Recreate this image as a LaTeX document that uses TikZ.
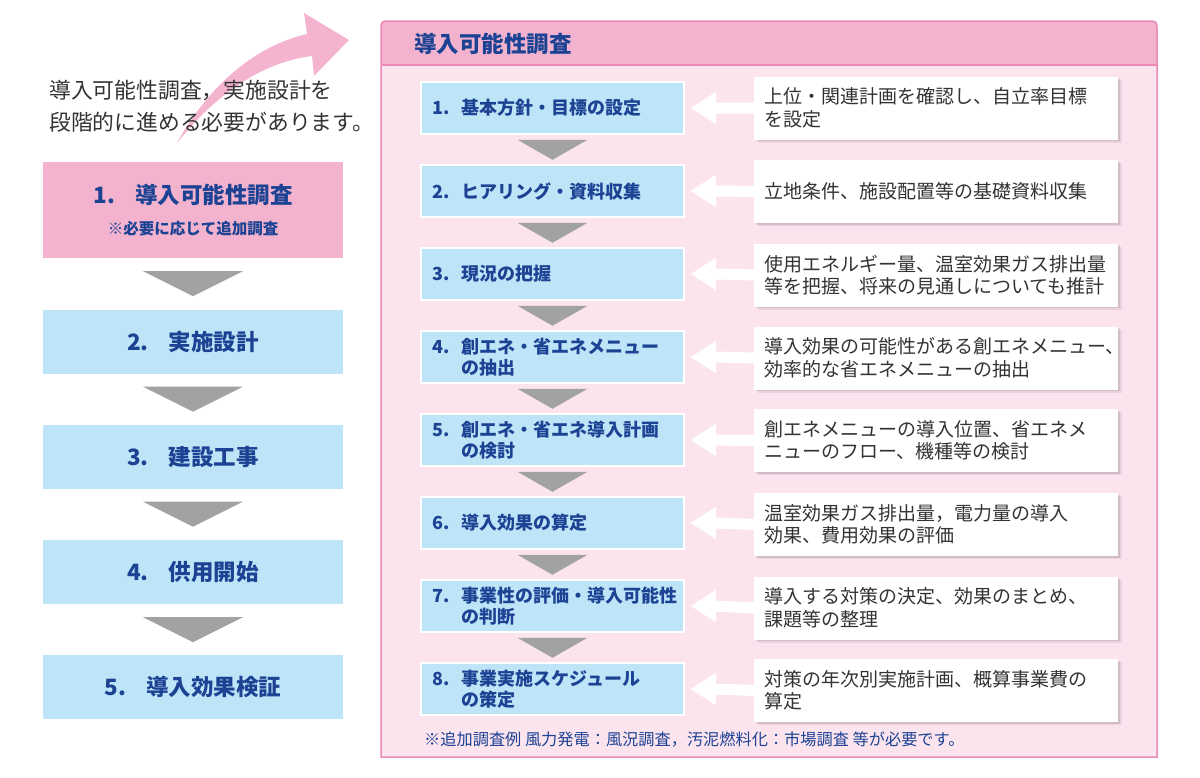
\documentclass[tikz,border=0pt]{standalone}
\usepackage{fontspec}
\setmainfont{Noto Sans CJK JP}
\usetikzlibrary{calc}
\definecolor{pinkhead}{HTML}{F3B3CF}
\definecolor{pinkbg}{HTML}{FCE4EF}
\definecolor{pinkline}{HTML}{EE88B6}
\definecolor{pinkarrow}{HTML}{F4B4CF}
\definecolor{lblue}{HTML}{BEE4F8}
\definecolor{dblue}{HTML}{1B4293}
\definecolor{tgray}{HTML}{A2A2A2}
\definecolor{txt}{HTML}{333333}
\begin{document}
\begin{tikzpicture}[x=1pt,y=-1pt,
  leftbox/.style={rectangle, fill=lblue, minimum width=300pt, minimum height=64pt, inner sep=0pt,
    text=dblue, font=\fontsize{22.5}{26}\selectfont\bfseries, align=center},
  stepbox/.style={rectangle, fill=lblue, draw=white, line width=1.5pt, text width=240pt,
    inner xsep=11.5pt, inner ysep=0pt, minimum height=52pt, align=left, text=dblue,
    font=\fontsize{18}{21.5}\selectfont\bfseries},
  descbox/.style={rectangle, fill=white, text width=344pt, inner xsep=10pt, inner ysep=0pt,
    minimum height=63pt, align=left, text=txt, font=\fontsize{19}{22.5}\selectfont,
    preaction={fill=black, opacity=0.07, transform canvas={shift={(3.5pt,-3pt)}}},
    preaction={fill=black, opacity=0.10, transform canvas={shift={(1.8pt,-1.5pt)}}}},
  tri/.style={fill=tgray},
  blockarrow/.style={fill=white}
]
\useasboundingbox (0,0) rectangle (1200,777);

% ---------- pink curved arrow ----------
\fill[pinkarrow] (177,143) .. controls (205,92) and (250,47) .. (307,34)
  -- (304,13) -- (349,40) -- (314,76) -- (312,56)
  .. controls (262,62) and (215,95) .. (177,143) -- cycle;

% ---------- intro text ----------
\node[anchor=west, align=left, text=txt, font=\fontsize{21.8}{32}\selectfont, inner sep=0pt] (intro) at (49,106)
  {導入可能性調査，実施設計を\\段階的に進める必要があります。};

% ---------- left column ----------
\node[leftbox, fill=pinkhead, minimum height=96pt] (l1) at (193,210)
  {1.\hspace{0.9em}導入可能性調査\\[5pt]{\fontsize{15.5}{18}\selectfont ※必要に応じて追加調査}};
\node[leftbox] (l2) at (193,341.5) {2.\hspace{0.9em}実施設計};
\node[leftbox] (l3) at (193,456.5) {3.\hspace{0.9em}建設工事};
\node[leftbox] (l4) at (193,572) {4.\hspace{0.9em}供用開始};
\node[leftbox] (l5) at (193,687) {5.\hspace{0.9em}導入効果検証};
\foreach \i in {1,...,4}{
  \fill[tri] ($(l\i.south)+(-50,13)$) -- ($(l\i.south)+(50,13)$) -- ($(l\i.south)+(0,38)$) -- cycle;
}

% ---------- right panel ----------
\fill[pinkbg] (381,757) -- (381,31) .. controls (381,21) .. (391,21) -- (1147,21)
  .. controls (1157,21) .. (1157,31) -- (1157,757) -- cycle;
\fill[pinkhead] (381,65) -- (381,31) .. controls (381,21) .. (391,21) -- (1147,21)
  .. controls (1157,21) .. (1157,31) -- (1157,65) -- cycle;
\draw[pinkline, line width=1.2pt] (381,65) -- (1157,65);
\draw[pinkline, line width=1.5pt] (381,757) -- (381,31) .. controls (381,21) .. (391,21) -- (1147,21)
  .. controls (1157,21) .. (1157,31) -- (1157,757) -- cycle;
\node[anchor=west, text=dblue, font=\fontsize{22.5}{26}\selectfont\bfseries, inner sep=0pt] (title) at (414,44)
  {導入可能性調査};

% ---------- steps ----------
\newcommand{\num}[1]{\makebox[29pt][l]{#1}}
\node[stepbox] (s1) at (552.5,108) {\num{1.}基本方針・目標の設定};
\node[stepbox] (s2) at (552.5,191) {\num{2.}ヒアリング・資料収集};
\node[stepbox] (s3) at (552.5,274) {\num{3.}現況の把握};
\node[stepbox] (s4) at (552.5,357) {\num{4.}創エネ・省エネメニュー\\\hspace*{29pt}の抽出};
\node[stepbox] (s5) at (552.5,440) {\num{5.}創エネ・省エネ導入計画\\\hspace*{29pt}の検討};
\node[stepbox] (s6) at (552.5,523) {\num{6.}導入効果の算定};
\node[stepbox] (s7) at (552.5,606) {\num{7.}事業性の評価・導入可能性\\\hspace*{29pt}の判断};
\node[stepbox] (s8) at (552.5,689) {\num{8.}事業実施スケジュール\\\hspace*{29pt}の策定};
\foreach \i in {1,...,7}{
  \fill[tri] ($(s\i.south)+(-35,5)$) -- ($(s\i.south)+(35,5)$) -- ($(s\i.south)+(0,25)$) -- cycle;
}

% ---------- descriptions ----------
\node[descbox] (d1) at (936,108) {上位・関連計画を確認し、自立率目標\\を設定};
\node[descbox] (d2) at (936,191.5) {立地条件、施設配置等の基礎資料収集};
\node[descbox] (d3) at (936,275) {使用エネルギー量、温室効果ガス排出量\\等を把握、将来の見通しについても推計};
\node[descbox] (d4) at (936,358) {導入効果の可能性がある創エネメニュー、\\効率的な省エネメニューの抽出};
\node[descbox] (d5) at (936,440.5) {創エネメニューの導入位置、省エネメ\\ニューのフロー、機種等の検討};
\node[descbox] (d6) at (936,524.5) {温室効果ガス排出量，電力量の導入\\効果、費用効果の評価};
\node[descbox] (d7) at (936,608) {導入する対策の決定、効果のまとめ、\\課題等の整理};
\node[descbox] (d8) at (936,690.5) {対策の年次別実施計画、概算事業費の\\算定};

% ---------- white block arrows ----------
\foreach \i in {1,...,8}{
  \fill[blockarrow] ($(d\i.west)+(0,-5.5)$) -- ($(s\i.east)+(31,-5.5)$) -- ($(s\i.east)+(31,-16)$)
    -- ($(s\i.east)+(6,0)$) -- ($(s\i.east)+(31,16)$) -- ($(s\i.east)+(31,5.5)$)
    -- ($(d\i.west)+(0,5.5)$) -- cycle;
}

% ---------- footnote ----------
\node[anchor=west, text=dblue, font=\fontsize{16.2}{19}\selectfont, inner sep=0pt] (note) at (424,740)
  {※追加調査例 風力発電：風況調査，汚泥燃料化：市場調査 等が必要です。};
\end{tikzpicture}
\end{document}
